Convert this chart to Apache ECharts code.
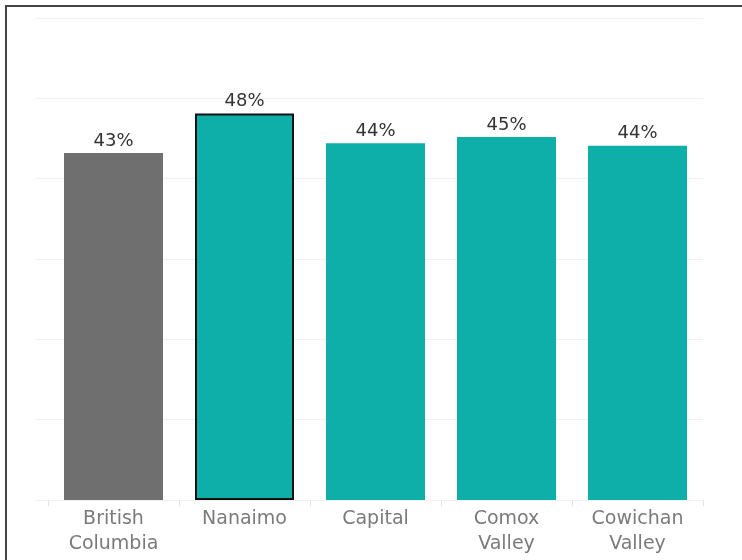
<!DOCTYPE html>
<html>
<head>
<meta charset="utf-8">
<script src="https://cdn.jsdelivr.net/npm/echarts@6/dist/echarts.min.js"></script>
<style>
  html, body { margin: 0; padding: 0; background: #ffffff; }
  #chart { width: 742px; height: 560px; }
</style>
</head>
<body>
<div id="chart"></div>
<script>
// Regions compared, and the share (%) for each
const categories = ['British\nColumbia', 'Nanaimo', 'Capital', 'Comox\nValley', 'Cowichan\nValley'];
const shares = [43.2, 48.1, 44.4, 45.2, 44.1];
const barColors = ['#6f6f6f', '#0fafa9', '#0fafa9', '#0fafa9', '#0fafa9'];
const highlighted = 'Nanaimo';

const chart = echarts.init(document.getElementById('chart'), null, { renderer: 'canvas' });

const barData = shares.map((v, i) => ({
  value: v,
  itemStyle: categories[i] === highlighted
    ? { color: barColors[i], borderColor: '#111111', borderWidth: 2 }
    : { color: barColors[i] }
}));

chart.setOption({
  animation: false,
  backgroundColor: '#ffffff',
  graphic: [{
    type: 'rect',
    shape: { x: 6, y: 6, width: 800, height: 600 },
    style: { fill: 'none', stroke: '#444444', lineWidth: 2 },
    z: 100
  }],
  grid: [
    { left: 48, right: 39, top: 18, bottom: 60 },
    { left: 35, right: 39, top: 18, bottom: 60 }
  ],
  xAxis: [
    {
      type: 'category',
      gridIndex: 0,
      data: categories,
      axisLine: { show: false },
      axisTick: { show: true, length: 6, lineStyle: { color: '#e2e2e2', width: 1 } },
      axisLabel: {
        color: '#7a7a7a',
        fontFamily: 'DejaVu Sans',
        fontSize: 19,
        lineHeight: 25,
        margin: 7,
        interval: 0
      }
    },
    { type: 'category', gridIndex: 1, show: false, data: [] }
  ],
  yAxis: [
    { type: 'value', gridIndex: 0, min: 0, max: 60, interval: 10, show: false },
    {
      type: 'value', gridIndex: 1, min: 0, max: 60, interval: 10,
      axisLine: { show: false }, axisTick: { show: false }, axisLabel: { show: false },
      splitLine: { show: true, lineStyle: { color: '#f0f0f0', width: 1 } }
    }
  ],
  series: [{
    type: 'bar',
    xAxisIndex: 0,
    yAxisIndex: 0,
    data: barData,
    barWidth: 99,
    z: 3,
    label: {
      show: true,
      position: 'top',
      distance: 3,
      color: '#333333',
      fontFamily: 'DejaVu Sans',
      fontSize: 18,
      formatter: p => Math.round(p.value) + '%'
    }
  }]
});
</script>
</body>
</html>
